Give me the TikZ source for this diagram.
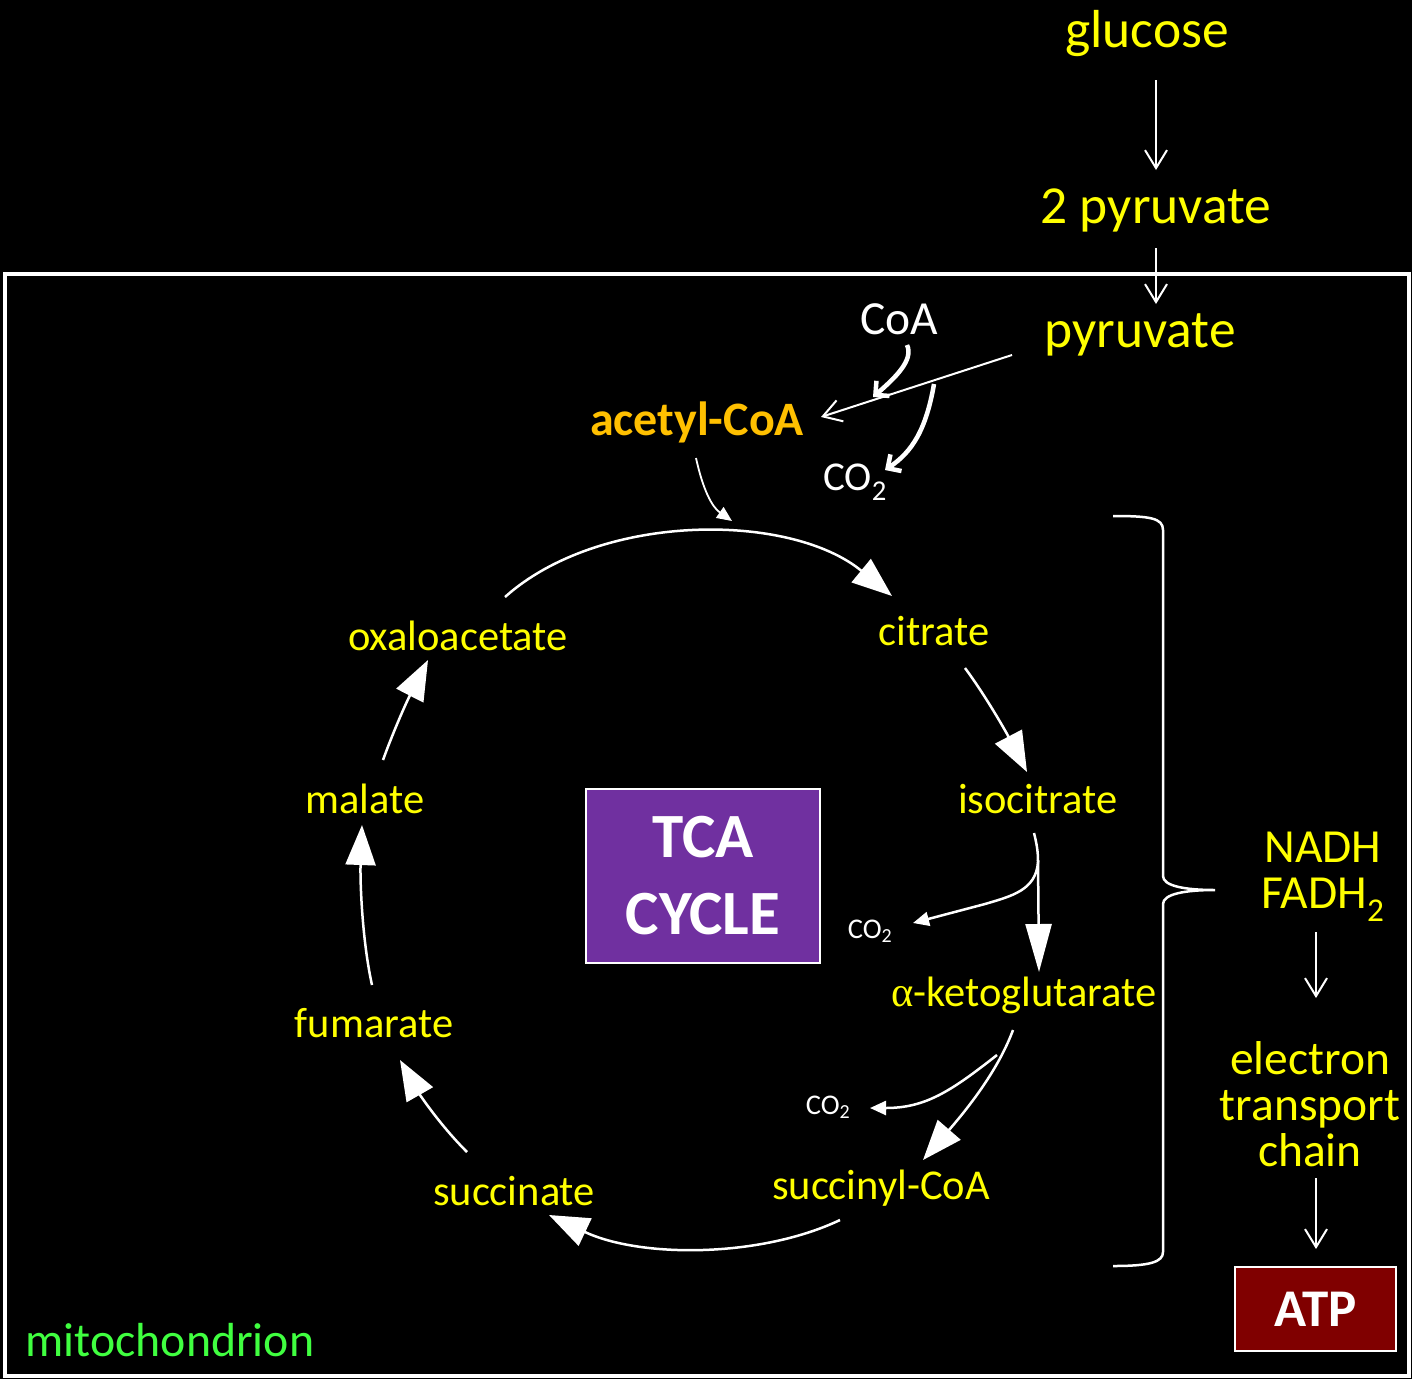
\documentclass[tikz,border=0pt]{standalone}
\usepackage{fontspec}
\setmainfont{Carlito}
\newfontfamily\grk{Liberation Serif}
\usetikzlibrary{arrows.meta}
\definecolor{ylw}{RGB}{255,255,0}
\definecolor{org}{RGB}{255,192,0}
\definecolor{grn}{RGB}{64,255,64}
\definecolor{purp}{RGB}{112,48,160}
\definecolor{dred}{RGB}{128,0,0}
\newcommand\fsz[2]{\fontsize{#1}{#2}\selectfont}
\begin{document}
\begin{tikzpicture}[x=1pt,y=-1pt,
  lbl/.style={text=ylw, inner sep=0pt, font=\fsz{42.5}{46}},
  toplbl/.style={text=ylw, inner sep=0pt, font=\fsz{53.5}{60}},
  wlbl/.style={text=white, inner sep=0pt},
  openarr/.style={draw=white, line width=2pt, -{Straight Barb[length=18pt,width=22pt,line width=2pt]}},
  thickarr/.style={draw=white, line width=4.5pt, -{Straight Barb[length=10pt,width=20pt,line width=4.5pt]}},
  bigarr/.style={draw=white, line width=2.5pt, -{Triangle[length=40pt,width=30pt]}},
  smallarr/.style={draw=white, line width=2.5pt, -{Triangle[length=16pt,width=14pt]}}]
\fill[black] (0,0) rectangle (1412,1379);
\useasboundingbox (0,0) rectangle (1412,1379);
\draw[white, line width=4pt] (5,274) rectangle (1409,1376);

% top labels
\node[toplbl] (glucose) at (1147,34) {glucose};
\node[toplbl] (pyr2) at (1156,210) {2 pyruvate};
\node[toplbl] (pyr) at (1140,335) {pyruvate};
\node[wlbl, font=\fsz{47.5}{50}] (coa) at (899,319) {CoA};
\node[text=org, inner sep=0pt, font=\bfseries\fsz{48}{50}] (acoa) at (697,422) {acetyl-CoA};
\node[wlbl, font=\fsz{41}{46}] (co2a) at (855,482) {CO\textsubscript{2}};

% cycle labels
\node[lbl] (cit) at (934,631) {citrate};
\node[lbl] (iso) at (1038,799) {isocitrate};
\node[lbl] (akg) at (1024,995) {{\grk α}-ketoglutarate};
\node[lbl] (scoa) at (881,1188) {succinyl-CoA};
\node[lbl] (succ) at (514,1191) {succinate};
\node[lbl] (fum) at (374,1023) {fumarate};
\node[lbl] (mal) at (365,799) {malate};
\node[lbl] (oaa) at (458,636) {oxaloacetate};
\node[wlbl, font=\fsz{28.5}{32}] (co2b) at (870,931) {CO\textsubscript{2}};
\node[wlbl, font=\fsz{28.5}{32}] (co2c) at (828,1107) {CO\textsubscript{2}};

\node[draw=white, line width=1.5pt, fill=purp, minimum width=234pt, minimum height=174pt,
      text=white, align=center, font=\bfseries\fsz{63}{77}] (tca) at (703,876) {TCA\\CYCLE};

% right side
\node[text=ylw, inner sep=0pt, align=center, font=\fsz{47.5}{46}] (nadh) at (1323,877) {NADH\\FADH\textsubscript{2}};
\node[text=ylw, inner sep=0pt, align=center, font=\fsz{47.5}{46}] (etc) at (1310,1104) {electron\\transport\\chain};
\node[draw=white, line width=2pt, fill=dred, minimum width=161pt, minimum height=84pt,
      text=white, font=\bfseries\fsz{53}{56}] (atp) at (1315.5,1309) {ATP};
\node[text=grn, inner sep=0pt, font=\fsz{47.8}{50}] (mito) at (170,1340) {mitochondrion};

% connectors top
\draw[openarr] (1156,80) -- (1156,170);
\draw[openarr] (1156,248) -- (1156,304);
\draw[openarr] (1012,355) -- (821,417);
\draw[thickarr] (907,345) .. controls (914,360) and (895,378) .. (873,397);
\draw[thickarr] (934,384) .. controls (926,430) and (912,452) .. (885,470);
\draw[draw=white, line width=1.8pt, -{Triangle[length=15pt,width=13pt]}] (696,458) .. controls (703,490) and (712,507) .. (732,521);

% cycle
\draw[bigarr] (505,597) .. controls (600,512) and (790,512) .. (892,596);
\draw[bigarr] (965,668) .. controls (985,695) and (1005,730) .. (1027,772);
\draw[white, line width=2.5pt] (1034,833) .. controls (1037,845) and (1038,852) .. (1038,862);
\draw[draw=white, line width=2.5pt, -{Triangle[length=48pt,width=26pt]}] (1038,860) -- (1039,972);
\draw[smallarr] (1038,862) .. controls (1036,890) and (1012,896) .. (985,904) -- (913,923);
\draw[bigarr] (1013,1030) .. controls (1000,1065) and (975,1100) .. (923,1160);
\draw[smallarr] (997,1055) .. controls (950,1092) and (925,1108) .. (870,1108);
\draw[bigarr] (840,1220) .. controls (760,1258) and (640,1258) .. (549,1215);
\draw[bigarr] (467,1152) .. controls (440,1125) and (420,1095) .. (400,1060);
\draw[bigarr] (372,985) .. controls (362,940) and (360,880) .. (362,825);
\draw[bigarr] (383,760) .. controls (392,735) and (405,705) .. (428,660);

% brace
\draw[white, line width=2.5pt] (1113,516) .. controls (1150,516) and (1163,518) .. (1163,530)
  -- (1163,876) .. controls (1163,886) and (1185,890) .. (1215,890)
  .. controls (1185,890) and (1163,894) .. (1163,904)
  -- (1163,1252) .. controls (1163,1262) and (1150,1266) .. (1113,1266);

\draw[openarr] (1316,932) -- (1316,998);
\draw[openarr] (1316,1178) -- (1316,1249);
\end{tikzpicture}
\end{document}
